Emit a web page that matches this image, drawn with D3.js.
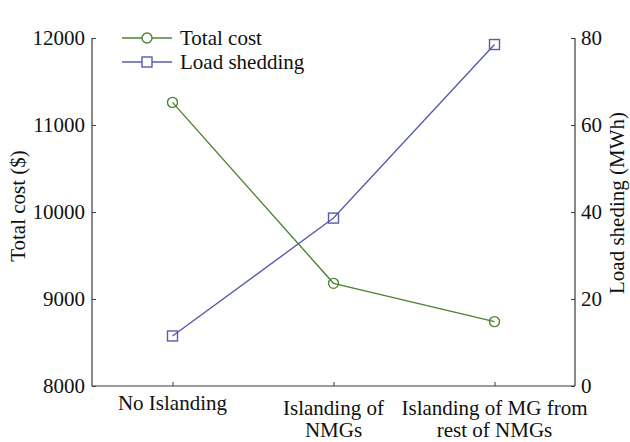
<!DOCTYPE html>
<html>
<head>
<meta charset="utf-8">
<script src="https://cdn.jsdelivr.net/npm/d3@7/dist/d3.min.js"></script>
<style>
  html, body { margin: 0; padding: 0; background: #fff; }
  svg text { font-family: "Liberation Serif", "Times New Roman", serif; fill: #111; }
</style>
</head>
<body>
<svg id="chart" width="630" height="442"></svg>
<script>
// Scenarios compared
const categories = ["No Islanding", "Islanding of NMGs", "Islanding of MG from rest of NMGs"];
const categoryLines = [["No Islanding"], ["Islanding of", "NMGs"], ["Islanding of MG from", "rest of NMGs"]];

// Series values
const totalCost = [11260, 9180, 8740];      // $
const loadShedding = [11.5, 38.6, 78.5];    // MWh

// Tick values
const costTicks = [8000, 9000, 10000, 11000, 12000];
const shedTicks = [0, 20, 40, 60, 80];

const costColor = "#4f8237";
const shedColor = "#5a5ca8";
const axisColor = "#3a3a3a";
const fontSize = 21;

const svg = d3.select("#chart");
const plotLeft = 92, plotRight = 575, plotTop = 38, plotBottom = 386;

const x = d3.scalePoint().domain(categories).range([plotLeft, plotRight]).padding(0.5);
const yCost = d3.scaleLinear().domain([8000, 12000]).range([plotBottom, plotTop]);
const yShed = d3.scaleLinear().domain([0, 80]).range([plotBottom, plotTop]);

// Axes (ticks point inward)
const leftAxis = svg.append("g").attr("transform", `translate(${plotLeft},0)`)
  .call(d3.axisLeft(yCost).tickValues(costTicks).tickSize(-4).tickPadding(7).tickFormat(d3.format("d")));
const rightAxis = svg.append("g").attr("transform", `translate(${plotRight},0)`)
  .call(d3.axisRight(yShed).tickValues(shedTicks).tickSize(-4).tickPadding(6));
const bottomAxis = svg.append("g").attr("transform", `translate(0,${plotBottom})`)
  .call(d3.axisBottom(x).tickSize(-4).tickFormat(""));

[leftAxis, rightAxis, bottomAxis].forEach(g => {
  g.select(".domain").attr("stroke", axisColor).attr("stroke-width", 1.2);
  g.selectAll(".tick line").attr("stroke", axisColor).attr("stroke-width", 1);
  g.selectAll(".tick text").attr("font-size", fontSize).attr("fill", "#111");
});
bottomAxis.select(".domain").attr("d", `M${plotLeft},0H${plotRight}`);
leftAxis.select(".domain").attr("d", `M0,${plotTop}V${plotBottom}`);
rightAxis.select(".domain").attr("d", `M0,${plotTop}V${plotBottom}`);

// Category labels (wrapped)
const catLabels = svg.append("g").selectAll("text").data(categories).join("text")
  .attr("text-anchor", "middle")
  .attr("font-size", fontSize)
  .attr("x", d => x(d))
  .attr("y", (d, i) => categoryLines[i].length === 1 ? 410 : 415);
catLabels.each(function(d, i) {
  d3.select(this).selectAll("tspan").data(categoryLines[i]).join("tspan")
    .attr("x", x(d))
    .attr("dy", (t, j) => j === 0 ? 0 : 22)
    .text(t => t);
});

// Axis titles
svg.append("text").attr("transform", "translate(25,206) rotate(-90)")
  .attr("text-anchor", "middle").attr("font-size", fontSize).text("Total cost ($)");
svg.append("text").attr("transform", "translate(624,203) rotate(-90)")
  .attr("text-anchor", "middle").attr("font-size", fontSize).text("Load sheding (MWh)");

// Lines
const costLine = d3.line().x((d, i) => x(categories[i])).y(d => yCost(d));
const shedLine = d3.line().x((d, i) => x(categories[i])).y(d => yShed(d));

svg.append("path").datum(totalCost).attr("d", costLine)
  .attr("fill", "none").attr("stroke", costColor).attr("stroke-width", 1.4);
svg.append("path").datum(loadShedding).attr("d", shedLine)
  .attr("fill", "none").attr("stroke", shedColor).attr("stroke-width", 1.4);

// Markers
svg.append("g").selectAll("circle").data(totalCost).join("circle")
  .attr("cx", (d, i) => x(categories[i])).attr("cy", d => yCost(d)).attr("r", 5)
  .attr("fill", "none").attr("stroke", costColor).attr("stroke-width", 1.4);
svg.append("g").selectAll("rect").data(loadShedding).join("rect")
  .attr("x", (d, i) => x(categories[i]) - 5).attr("y", d => yShed(d) - 5)
  .attr("width", 10).attr("height", 10)
  .attr("fill", "none").attr("stroke", shedColor).attr("stroke-width", 1.4);

// Legend
const legend = svg.append("g");
const legendItems = [
  { label: "Total cost", color: costColor, shape: "circle", y: 38 },
  { label: "Load shedding", color: shedColor, shape: "square", y: 62 }
];
legendItems.forEach(it => {
  legend.append("line").attr("x1", 122).attr("x2", 172).attr("y1", it.y).attr("y2", it.y)
    .attr("stroke", it.color).attr("stroke-width", 1.4);
  if (it.shape === "circle") {
    legend.append("circle").attr("cx", 147).attr("cy", it.y).attr("r", 5)
      .attr("fill", "#fff").attr("stroke", it.color).attr("stroke-width", 1.4);
  } else {
    legend.append("rect").attr("x", 142).attr("y", it.y - 5).attr("width", 10).attr("height", 10)
      .attr("fill", "#fff").attr("stroke", it.color).attr("stroke-width", 1.4);
  }
  legend.append("text").attr("x", 180).attr("y", it.y + 7).attr("font-size", fontSize).text(it.label);
});
</script>
</body>
</html>
